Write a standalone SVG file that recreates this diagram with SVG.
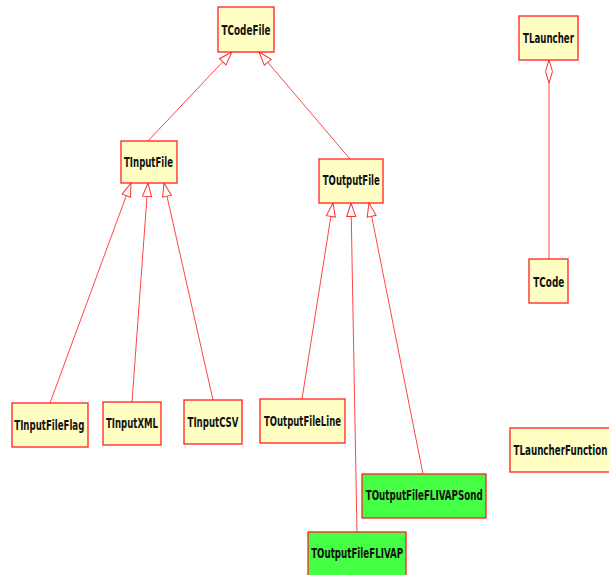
<svg xmlns="http://www.w3.org/2000/svg" width="609" height="575" viewBox="0 0 609 575">
<defs>
<style>
.n rect{fill:#ffffc4;stroke:#ff2020;stroke-width:1.3}
.g rect{fill:#44ff44;stroke:#ff2020;stroke-width:1.3}
text{font-family:"DejaVu Sans","Liberation Sans",sans-serif;font-weight:bold;font-size:14.5px;fill:#111;text-anchor:middle}
.c line{stroke:#ff4545;stroke-width:1}
</style>
<marker id="tri" markerUnits="userSpaceOnUse" viewBox="0 0 16 12" markerWidth="16" markerHeight="12" refX="15" refY="6" orient="auto">
<path d="M15,6 L1.5,1.5 L1.5,10.5 Z" fill="#fff" stroke="#ff3030" stroke-width="1"/>
</marker>
<marker id="dia" markerUnits="userSpaceOnUse" viewBox="0 0 26 10" markerWidth="26" markerHeight="10" refX="1" refY="5" orient="auto">
<path d="M1,5 L12.5,1.5 L24,5 L12.5,8.5 Z" fill="#fff" stroke="#ff3030" stroke-width="1"/>
</marker>
</defs>
<rect width="609" height="575" fill="#fff"/>
<g class="c" id="connectors">
<line x1="148" y1="141" x2="232" y2="52" marker-end="url(#tri)"/>
<line x1="350" y1="159" x2="259" y2="52" marker-end="url(#tri)"/>
<line x1="50" y1="403" x2="131" y2="183" marker-end="url(#tri)"/>
<line x1="132" y1="402" x2="148" y2="183" marker-end="url(#tri)"/>
<line x1="213" y1="400" x2="164" y2="183" marker-end="url(#tri)"/>
<line x1="302" y1="399" x2="333" y2="203" marker-end="url(#tri)"/>
<line x1="357" y1="532" x2="351" y2="203" marker-end="url(#tri)"/>
<line x1="423" y1="474" x2="369" y2="203" marker-end="url(#tri)"/>
<line x1="549" y1="60" x2="549" y2="259" marker-start="url(#dia)"/>
</g>
<g class="n" id="TCodeFile"><rect x="218" y="7" width="56" height="45"/><text x="246" y="35" textLength="49" lengthAdjust="spacingAndGlyphs">TCodeFile</text></g>
<g class="n" id="TLauncher"><rect x="519" y="16" width="59" height="44"/><text x="548.5" y="43" textLength="51" lengthAdjust="spacingAndGlyphs">TLauncher</text></g>
<g class="n" id="TInputFile"><rect x="121" y="141" width="56" height="42"/><text x="148.5" y="166.5" textLength="49" lengthAdjust="spacingAndGlyphs">TInputFile</text></g>
<g class="n" id="TOutputFile"><rect x="319" y="159" width="64" height="44"/><text x="351.3" y="184.5" textLength="57" lengthAdjust="spacingAndGlyphs">TOutputFile</text></g>
<g class="n" id="TCode"><rect x="529" y="259" width="39" height="44"/><text x="548.8" y="287" textLength="31" lengthAdjust="spacingAndGlyphs">TCode</text></g>
<g class="n" id="TInputFileFlag"><rect x="12" y="403" width="76" height="44"/><text x="49.3" y="430" textLength="70" lengthAdjust="spacingAndGlyphs">TInputFileFlag</text></g>
<g class="n" id="TInputXML"><rect x="103" y="402" width="58" height="43"/><text x="132" y="428" textLength="52" lengthAdjust="spacingAndGlyphs">TInputXML</text></g>
<g class="n" id="TInputCSV"><rect x="184" y="400" width="58" height="44"/><text x="213" y="427" textLength="51" lengthAdjust="spacingAndGlyphs">TInputCSV</text></g>
<g class="n" id="TOutputFileLine"><rect x="260" y="399" width="85" height="44"/><text x="302.5" y="425.5" textLength="77" lengthAdjust="spacingAndGlyphs">TOutputFileLine</text></g>
<g class="n" id="TLauncherFunction"><rect x="510" y="428" width="104" height="44"/><text x="513.5" y="455" style="text-anchor:start" textLength="94" lengthAdjust="spacingAndGlyphs">TLauncherFunction</text></g>
<g class="g" id="TOutputFileFLIVAPSond"><rect x="362" y="474" width="124" height="44"/><text x="424.2" y="500" textLength="117" lengthAdjust="spacingAndGlyphs">TOutputFileFLIVAPSond</text></g>
<g class="g" id="TOutputFileFLIVAP"><rect x="308" y="532" width="98" height="46"/><text x="357.2" y="558" textLength="92" lengthAdjust="spacingAndGlyphs">TOutputFileFLIVAP</text></g>
</svg>
